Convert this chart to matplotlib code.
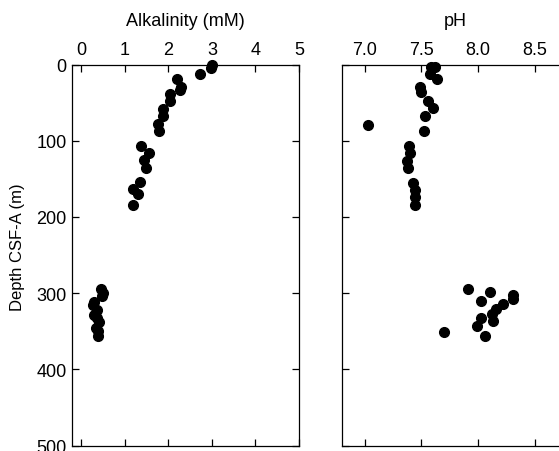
import matplotlib
matplotlib.use("Agg")
import matplotlib.pyplot as plt

plt.rcParams["font.family"] = ["Liberation Sans", "DejaVu Sans"]
plt.rcParams["font.size"] = 13

# alkalinity profile (mM) vs depth (m)
alk_depth = [1, 4, 12.5, 19, 30, 33, 39, 48, 58, 68, 78, 87,
             106.5, 116, 125, 136, 154.6, 163, 170, 184,
             295, 300, 304, 311, 316, 322, 328, 333, 338, 345, 350, 356]
alk = [3.0, 2.98, 2.72, 2.2, 2.3, 2.26, 2.05, 2.03, 1.88, 1.87, 1.77, 1.79,
       1.37, 1.55, 1.44, 1.48, 1.36, 1.19, 1.31, 1.19,
       0.45, 0.5, 0.48, 0.3, 0.28, 0.36, 0.3, 0.37, 0.4, 0.35, 0.38, 0.38]

# pH profile vs depth (m)
ph_depth = [2.9, 3.7, 12.5, 19, 30, 36.5, 47.5, 57.5, 68, 79.4, 87.7,
            106.5, 116, 126, 136, 156, 165, 174, 184,
            294.6, 299, 302.5, 307.7, 310.8, 314, 321, 327.4, 332.7, 337,
            343.6, 351.5, 356]
ph = [7.585, 7.62, 7.576, 7.635, 7.488, 7.50, 7.56, 7.605, 7.53, 7.03, 7.52,
      7.39, 7.40, 7.376, 7.38, 7.43, 7.44, 7.445, 7.445,
      7.914, 8.105, 8.305, 8.305, 8.03, 8.22, 8.16, 8.12, 8.03, 8.134,
      7.99, 7.70, 8.06]

W, H = 559, 452
fig = plt.figure(figsize=(W / 100, H / 100), dpi=100)
ax1 = fig.add_axes([72 / W, 1 - 446.7 / H, 227 / W, 381.2 / H])
ax2 = fig.add_axes([342 / W, 1 - 446.7 / H, 226.8 / W, 381.2 / H])

for ax in (ax1, ax2):
    ax.tick_params(direction="in", top=True, bottom=True, left=True, right=True,
                   labeltop=True, labelbottom=False, length=5, width=0.9,
                   pad=5)
    ax.tick_params(axis="y", pad=4)
    ax.xaxis.set_label_position("top")
    ax.set_ylim(500, 0)
    ax.set_yticks([0, 100, 200, 300, 400, 500])
    for s in ax.spines.values():
        s.set_linewidth(0.9)

ax1.plot(alk, alk_depth, "o", color="black", ms=7, clip_on=False)
ax1.set_xlim(-0.21, 5.0)
ax1.set_xticks([0, 1, 2, 3, 4, 5])
ax1.set_xlabel("Alkalinity (mM)", labelpad=11)

ax2.plot(ph, ph_depth, "o", color="black", ms=7, clip_on=False)
ax2.set_xlim(6.8, 8.8)
ax2.set_xticks([7.0, 7.5, 8.0, 8.5])
ax2.set_xticklabels(["7.0", "7.5", "8.0", "8.5"])
ax2.set_xlabel("pH", labelpad=11)
ax2.tick_params(labelleft=False)

# depth label sits a little above the axes centre in the original
fig.text(17.5 / W, 1 - 247 / H, "Depth CSF-A (m)", rotation=90,
         ha="center", va="center", fontsize=12)

fig.savefig("out.png", dpi=100)
